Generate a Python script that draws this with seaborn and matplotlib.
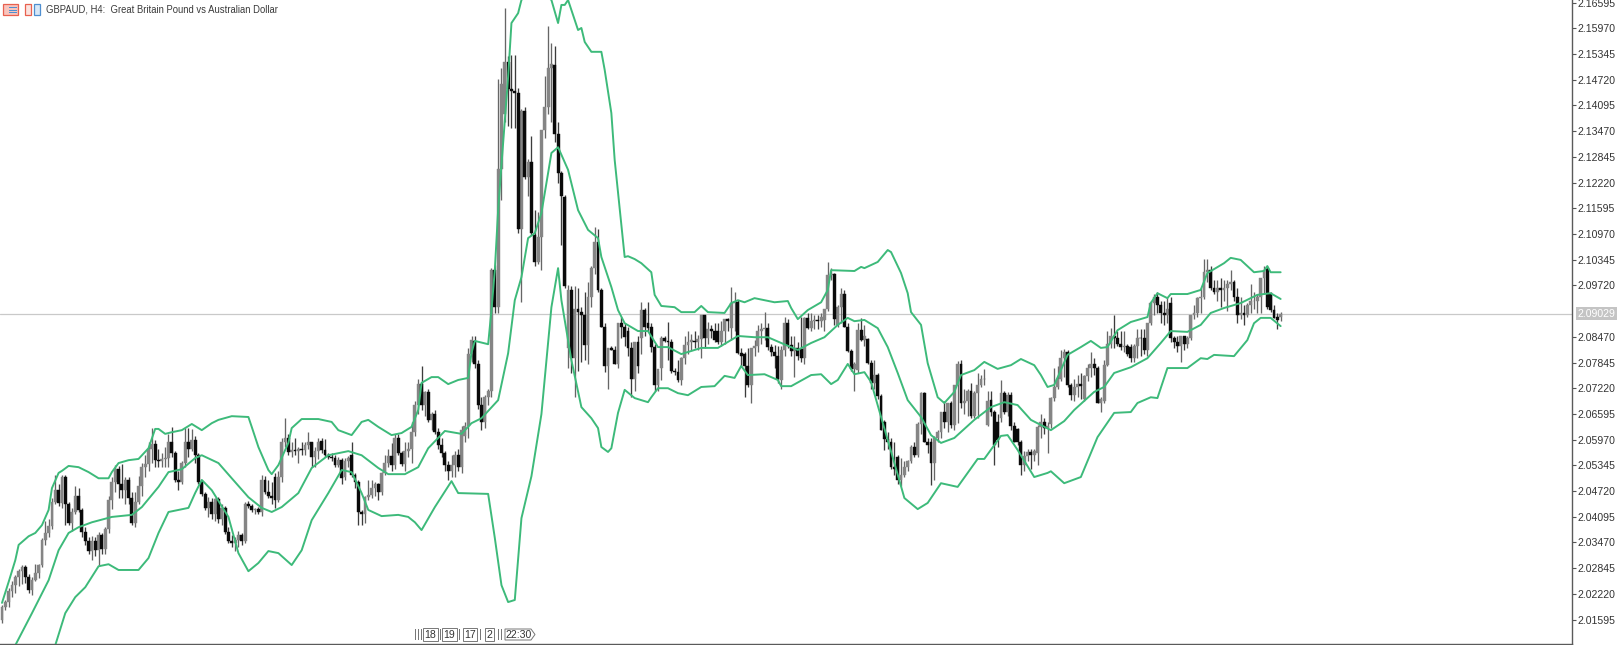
import matplotlib
matplotlib.use("Agg")
import matplotlib.pyplot as plt
from matplotlib.patches import Polygon, Rectangle
import numpy as np
import seaborn as sns

# All prices below are pips above 2.00000
opens = [159,191,203,228,244,262,278,287,264,232, 256,272,292,352,370,388,445,475,442,505,
    440,395,420,460,425,372,350,325,350,328, 365,330,380,450,495,525,488,475,500,455,
    395,445,483,530,538,575,587,548,545,550, 552,590,565,500,495,540,590,575,597,560,
    495,465,430,445,415,452,405,430,372,350, 345,352,365,350,440,435,425,428,420,500,
    470,460,505,450,505,590,602,568,572,570, 575,572,585,590,555,570,593,572,560,555,
    552,535,548,505,545,560,510,495,420,415, 458,462,480,488,470,515,540,558,535,600,
    565,537,570,575,615,680,732,680,712,645, 660,615,585,565,535,520,535,560,530,605,
    630,805,838,780,680,640,700,715,1010,920, 1255,1390,1515,1450,1445,1440,1110,1395,1235,1272,
    1095,1030,1090,1350,1405,1500,1508,1340,1245,1188, 820,960,795,915,908,900,828,945,1015,1078,
    960,870,775,820,815,782,880,872,860,820, 745,835,843,912,880,872,823,730,770,843,
    838,835,765,762,742,795,827,835,838,835, 842,900,843,866,860,862,835,860,890,868,
    928,932,807,805,775,730,820,825,860,865, 868,823,810,800,742,815,880,828,812,820,
    818,795,892,868,885,887,885,888,915,998, 1000,875,920,950,870,812,768,767,863,840,
    842,783,735,755,702,640,598,592,530,555, 500,510,530,545,578,560,635,710,592,592,
    540,602,615,663,640,685,632,730,780,685, 690,715,655,710,730,745,633,693,665,640,
    650,710,665,705,630,622,592,535,558,568, 560,565,628,640,625,636,697,725,745,795,
    810,730,705,725,732,695,752,770,780,770, 685,690,778,830,850,845,830,822,825,822,
    795,825,845,843,815,880,930,945,925,905, 900,930,845,835,825,848,830,845,900,905,
    942,945,1005,1010,965,955,965,960,965,975, 980,945,900,905,900,925,935,935,945,990,
    1012,950,912,895,894]
highs = [195,207,235,252,268,282,292,292,270,262, 295,295,358,400,405,455,510,490,510,510,
    445,430,483,480,430,385,360,362,360,372, 370,385,460,505,535,532,537,505,505,470,
    470,508,540,560,590,625,595,575,565,580, 610,628,570,520,545,625,625,622,605,565,
    500,470,458,455,455,458,440,435,385,365, 360,375,370,445,448,440,430,432,510,508,
    500,495,515,520,600,650,610,590,600,578, 590,590,615,592,580,600,600,598,565,565,
    560,555,552,552,558,590,515,500,425,460, 500,500,495,492,518,560,575,588,610,610,
    570,590,590,640,690,745,777,715,720,665, 668,625,600,570,545,560,570,575,630,640,
    820,850,850,790,700,705,720,1015,1022,1475, 1500,1646,1530,1532,1532,1452,1400,1405,1280,1335,
    1155,1150,1350,1480,1602,1562,1553,1370,1250,1192, 972,970,970,965,920,955,980,1018,1115,1110,
    965,880,820,825,825,880,895,880,870,835, 835,850,932,916,932,880,830,765,848,850,
    884,842,772,790,798,850,860,855,860,852, 900,900,882,875,880,880,885,890,893,968,
    955,936,820,810,820,820,840,875,880,908, 880,830,827,825,825,895,890,850,850,835,
    895,895,905,905,900,900,905,915,1030,1015, 1002,925,965,960,880,818,785,880,892,875,
    845,790,790,760,708,645,615,600,592,560, 552,545,548,585,590,640,712,712,600,600,
    605,620,665,690,685,690,730,787,790,720, 720,735,715,760,755,768,715,715,670,660,
    742,715,712,712,640,625,595,570,575,575, 575,632,660,650,640,700,770,775,815,817,
    815,735,745,755,760,755,780,811,795,775, 700,790,860,868,900,860,860,860,830,830,
    830,865,865,865,880,935,950,955,935,935, 945,945,848,850,850,850,850,900,925,945,
    965,1035,1035,1020,985,985,990,985,985,1010, 985,965,945,925,930,975,955,950,990,1020,
    1018,955,925,905,908]
lows = [150,183,191,215,225,240,245,248,224,220, 252,260,288,340,360,380,440,435,430,390,
    390,374,415,420,360,340,318,305,315,290, 320,318,370,428,470,455,455,440,440,390,
    385,440,460,505,520,540,530,530,530,530, 530,555,495,475,490,530,555,570,540,490,
    460,425,410,405,398,395,390,368,345,335, 325,335,340,345,430,420,415,415,412,465,
    455,440,430,445,495,580,560,555,560,540, 560,560,575,530,530,550,565,555,550,545,
    530,530,490,500,530,505,480,390,390,395, 450,455,460,450,462,510,530,520,525,560,
    532,520,555,540,605,660,668,655,640,620, 610,575,555,520,500,505,505,520,515,590,
    600,785,770,672,620,625,680,700,905,905, 1180,1370,1360,1355,1355,1100,932,1230,1190,1095,
    1020,1025,1010,1330,1390,1370,1320,1220,1070,965, 770,760,700,765,785,790,780,920,1000,955,
    870,762,720,815,780,770,845,825,800,700, 715,760,806,850,860,810,715,715,742,835,
    790,760,755,738,730,780,805,815,820,815, 795,820,830,845,835,830,825,830,860,840,
    860,805,775,700,725,685,800,810,830,840, 815,800,770,735,720,800,820,800,750,790,
    785,780,865,860,865,865,870,860,910,985, 875,870,880,870,810,765,715,760,838,825,
    780,720,720,695,620,572,575,525,510,490, 483,505,520,540,555,555,610,590,565,487,
    500,590,600,625,615,625,620,637,675,660, 655,650,650,650,725,730,630,655,535,580,
    640,660,655,620,590,585,511,520,545,525, 545,535,600,610,565,625,690,720,740,750,
    725,693,690,700,695,690,740,750,755,685, 665,685,775,820,820,825,815,810,800,785,
    785,795,800,805,800,875,900,905,880,875, 880,835,820,810,785,815,820,840,890,895,
    905,940,980,960,950,935,920,935,910,960, 935,880,890,875,895,905,915,905,905,950,
    915,908,892,865,885]
closes = [191,203,228,244,262,278,287,264,232,256, 272,292,352,370,388,445,475,442,505,440,
    395,420,460,425,372,350,325,350,328,365, 330,380,450,495,525,488,475,500,455,395,
    445,483,530,538,575,587,548,545,550,552, 590,565,500,495,540,590,575,597,560,495,
    465,430,445,415,452,405,430,372,350,345, 352,365,350,440,435,425,428,420,500,470,
    460,455,450,505,590,602,568,572,570,575, 572,585,590,555,570,590,572,560,555,552,
    535,548,503,545,552,510,495,420,415,458, 462,480,488,470,515,540,558,535,600,565,
    537,570,575,615,680,732,680,712,645,660, 615,585,565,535,520,535,560,530,620,630,
    805,840,780,680,640,700,715,1010,920,1255, 1462,1515,1450,1445,1440,1110,1395,1235,1272,1100,
    1030,1090,1350,1407,1500,1510,1340,1245,1190,970, 960,795,915,908,900,828,945,1015,1078,960,
    870,775,820,815,782,880,872,846,820,745, 835,775,912,872,868,823,730,768,843,838,
    835,765,762,742,795,827,835,840,835,842, 900,843,866,862,840,835,860,890,885,928,
    932,807,800,775,730,820,825,860,865,868, 823,810,800,745,815,880,828,812,820,800,
    795,892,868,885,887,885,895,915,998,1000, 890,920,950,870,812,768,780,863,840,850,
    783,735,755,702,620,598,592,530,525,500, 510,530,545,578,560,635,710,592,585,540,
    602,615,663,640,685,632,730,780,685,690, 715,655,710,730,745,745,690,665,585,596,
    710,665,705,630,592,592,535,558,568,560, 570,628,640,625,630,697,725,745,795,810,
    730,705,725,732,728,752,770,780,770,685, 695,778,830,850,845,830,822,825,805,795,
    825,845,843,815,880,930,945,925,905,900, 915,845,835,825,848,830,845,900,905,942,
    945,1005,1010,965,955,965,960,965,975,980, 945,900,905,900,925,935,935,945,990,1010,
    920,912,892,888,902]

upper_bars = [0,2,4,5,8,10,12,14,15,17,18,20,23,26,29,32,33,35,38,41,44,46,47,49,51,54,57,59,60,63,65,69,74,75,77,80,81,83,86,87,90,95,99,101,105,108,110,113,117,120,123,125,126,129,131,134,137,140,141,142,146,147,148,149,150,152,153,155,156,160,165,167,168,169,170,173,174,175,177,180,181,183,184,187,188,190,192,195,196,198,202,204,208,210,212,217,219,221,223,226,232,236,237,239,242,246,248,249,256,258,259,263,266,267,270,272,273,276,278,281,283,286,288,292,295,299,303,306,310,312,314,316,318,320,324,327,330,332,335,339,344,345,347,350,351,356,360,362,367,369,372,376,379,380,381,384]
upper_vals = [200,251,304,341,362,370,389,426,479,516,521,533,530,518,503,503,518,540,547,550,576,623,623,611,615,620,635,625,620,637,645,654,652,628,579,523,513,535,589,625,647,647,640,620,608,640,645,628,608,613,628,669,735,749,749,732,742,747,808,837,829,912,1009,1155,1265,1479,1610,1634,1666,1700,1666,1610,1654,1654,1666,1593,1598,1564,1540,1540,1496,1391,1277,1041,1043,1036,1026,1004,949,922,919,907,907,922,907,905,929,936,931,941,931,934,917,890,912,931,961,1009,1007,1017,1014,1029,1058,1053,1002,953,907,876,783,700,686,713,754,766,786,769,778,793,778,754,725,730,766,803,822,837,820,822,863,883,895,929,953,941,951,951,961,1002,1026,1039,1034,1004,1007,1019,1004,1004]
middle_bars = [4,9,14,17,20,23,27,33,39,42,47,50,54,58,60,65,69,74,78,81,84,89,93,98,104,108,113,116,121,125,128,133,138,141,144,149,152,154,156,158,160,162,164,165,167,170,173,176,179,180,183,185,187,191,194,197,200,204,210,215,221,226,230,234,239,243,247,251,254,256,259,263,266,269,272,276,279,282,286,292,297,301,305,309,315,319,322,328,331,334,339,344,348,351,356,360,363,367,372,377,381,384]
middle_vals = [97,175,255,328,370,384,396,409,414,433,482,518,525,552,559,540,503,457,431,421,433,467,528,559,569,559,528,513,513,530,576,618,611,637,649,693,807,936,992,1087,1099,1148,1245,1294,1308,1253,1155,1107,1087,1041,968,912,880,861,861,822,822,805,820,820,849,846,846,832,815,832,846,876,893,885,888,868,822,759,693,652,608,589,601,645,676,688,681,645,620,642,669,713,725,759,773,795,832,861,859,876,905,917,929,949,953,939]
lower_bars = [16,19,22,25,29,32,35,41,44,47,50,56,58,60,63,68,71,74,77,80,83,87,90,93,98,102,105,108,110,114,119,122,124,126,130,135,137,146,148,150,152,154,156,159,162,165,167,168,171,174,177,179,180,182,183,185,187,190,194,195,197,200,203,206,210,214,217,220,222,224,229,233,234,237,243,246,249,251,254,256,259,261,264,268,271,275,278,282,287,293,295,300,302,305,310,314,315,319,324,329,334,339,341,345,347,350,356,360,362,364,370,374,376,378,381,384]
lower_vals = [97,175,214,238,289,294,280,280,309,370,421,431,467,499,474,409,321,277,297,326,321,292,328,401,467,523,518,467,426,411,414,409,396,377,433,496,467,465,358,243,202,207,406,508,659,919,1014,936,790,676,649,625,579,567,576,662,718,698,688,700,722,722,710,705,725,727,752,747,776,754,756,742,727,727,754,756,732,742,781,756,761,737,652,540,455,428,443,491,482,550,550,606,608,572,506,516,520,491,506,603,662,664,686,700,698,771,771,795,793,803,800,839,880,893,893,873]

price_ticks = [2.16595,2.15970,2.15345,2.14720,2.14095,2.13470,2.12845,2.12220,2.11595,2.10970,2.10345,2.09720,
    2.08470,2.07845,2.07220,2.06595,2.05970,2.05345,2.04720,2.04095,2.03470,2.02845,2.02220,2.01595]
last_price = 2.09029
title = "GBPAUD, H4:  Great Britain Pound vs Australian Dollar"
scale_labels = ["18", "19", "17", "2"]

W, H = 1623, 645
GREEN = "#3dba7a"

sns.set_style("white")
plt.rcParams['font.family'] = ['Liberation Sans', 'DejaVu Sans']

fig = plt.figure(figsize=(W / 100, H / 100), dpi=100)
ax = fig.add_axes([0, 1 / H, 1572 / W, 644 / H])


def price(pips):
    return 2 + np.array(pips) / 10000


# candles: up bars come out grey, down bars black
o, hi, lo, c = price(opens), price(highs), price(lows), price(closes)
idx = np.arange(len(o))
up = c >= o
ax.vlines(idx[up], lo[up], hi[up], color="#666666", lw=0.95, zorder=2)
ax.vlines(idx[~up], lo[~up], hi[~up], color="#3c3c3c", lw=0.95, zorder=2)
ax.bar(idx[up], (c - o)[up], bottom=o[up], width=0.86, color="#858585", lw=0.3, edgecolor="#858585", zorder=3)
ax.bar(idx[~up], (c - o)[~up], bottom=o[~up], width=0.86, color="#0a0a0a", lw=0.3, edgecolor="#0a0a0a", zorder=3)

# bollinger bands on top
for bars, vals in [(upper_bars, upper_vals), (middle_bars, middle_vals), (lower_bars, lower_vals)]:
    sns.lineplot(x=bars, y=price(vals), color=GREEN, lw=1.4, estimator=None, sort=False, ax=ax, zorder=4,
                 solid_joinstyle="round")

ax.axhline(last_price, color="#c9c9c9", lw=0.9, zorder=1)

ax.set_xlim(-0.6, 471.5)
ax.set_ylim(2.0100, 2.1666)
ax.set_xticks([])
ax.yaxis.tick_right()
ax.set_yticks(price_ticks)
ax.set_yticklabels([f"{t:.5f}" for t in price_ticks])
ax.tick_params(axis="y", length=3, width=0.8, color="#555555", pad=1, labelsize=7.6, labelcolor="#333333", right=True)
for side in ["top", "left"]:
    ax.spines[side].set_visible(False)
for side in ["right", "bottom"]:
    ax.spines[side].set_color("#5a5a5a")
    ax.spines[side].set_linewidth(1.0)
ax.grid(False)

# last price tag
ax.annotate(f"{last_price:.5f}", xy=(1, last_price), xycoords=("axes fraction", "data"), xytext=(4, 0),
            textcoords="offset points", va="center", ha="left", fontsize=7.6, color="white",
            bbox=dict(boxstyle="square,pad=0.15", fc="#c4c4c4", ec="none"), annotation_clip=False)


# the rest is placed in screen pixels
def px(x, y):
    return x / W, 1 - y / H


fig.text(*px(46, 9), title, fontsize=6.85, color="#3a3a3a", va="center", ha="left")

# chart header icons
fig.add_artist(Rectangle(px(3, 15), 15 / W, 11 / H, fc="#f8c4bd", ec="#e8604f", lw=0.9))
for yy in (7.5, 10, 12.5):
    fig.add_artist(Rectangle(px(9, yy + 0.5), 8 / W, 1 / H, fc="#4f8fd0", ec="none"))
fig.add_artist(Rectangle(px(25, 15), 6 / W, 11 / H, fc="#fbe3df", ec="#e8604f", lw=0.9))
fig.add_artist(Rectangle(px(34, 15), 6 / W, 11 / H, fc="#d8e8f7", ec="#4f8fd0", lw=0.9))

# crushed time scale labels
for x in [415, 418, 421, 440, 459, 480, 498, 501]:
    fig.add_artist(Rectangle(px(x, 640), 1 / W, 11 / H, fc="#777777", ec="none"))
for x, label in zip([430.5, 449.5, 470, 489.5], scale_labels):
    fig.text(*px(x, 634.5), label, fontsize=7.6, color="#333333", ha="center", va="center",
             bbox=dict(boxstyle="square,pad=0.12", fc="white", ec="#777777", lw=0.7))
fig.add_artist(Polygon([px(505, 629), px(531, 629), px(535, 634.5), px(531, 640), px(505, 640)],
                       closed=True, fc="white", ec="#777777", lw=0.7))
fig.text(*px(519, 634.5), "22:30", fontsize=7.6, color="#333333", ha="center", va="center")

fig.savefig("out.png", dpi=100)
